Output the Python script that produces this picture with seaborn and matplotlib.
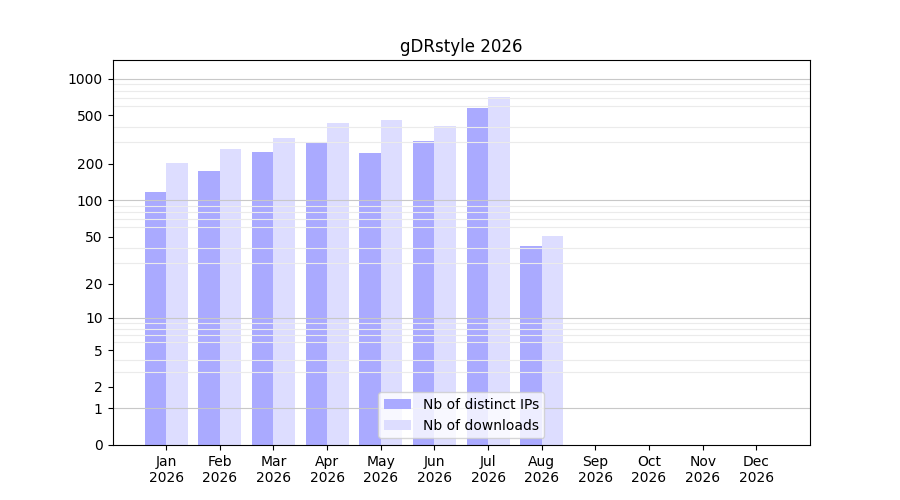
import matplotlib
matplotlib.use("Agg")
import matplotlib.pyplot as plt
import seaborn as sns
import pandas as pd
import numpy as np

# Monthly stats for gDRstyle (Sep-Dec not yet available)
months = ['Jan', 'Feb', 'Mar', 'Apr', 'May', 'Jun',
          'Jul', 'Aug', 'Sep', 'Oct', 'Nov', 'Dec']
year = 2026
distinct_ips = [117, 174, 250, 302, 245, 308, 575, 42, np.nan, np.nan, np.nan, np.nan]
downloads = [202, 265, 326, 433, 458, 409, 709, 51, np.nan, np.nan, np.nan, np.nan]

labels = [f"{m}\n{year}" for m in months]
df = pd.DataFrame({
    'month': labels * 2,
    'count': distinct_ips + downloads,
    'series': ['Nb of distinct IPs'] * 12 + ['Nb of downloads'] * 12,
})

fig, ax = plt.subplots(figsize=(9, 5), dpi=100)
sns.barplot(data=df, x='month', y='count', hue='series', order=labels,
            palette={'Nb of distinct IPs': '#aaaaff', 'Nb of downloads': '#ddddff'},
            width=0.8, saturation=1, ax=ax, zorder=1)

# log(1 + x) scale so that zero stays on the axis
ax.set_yscale('function', functions=(lambda v: np.log10(np.clip(1 + v, 1e-9, None)),
                                     lambda v: 10 ** v - 1))
ax.set_ylim(0, 1425)
ax.set_xlim(-1, 12)

yticks = [0, 1, 2, 5, 10, 20, 50, 100, 200, 500, 1000]
ax.set_yticks(yticks)
ax.set_yticklabels([str(t) for t in yticks])
minor = [m * 10 ** k for k in range(3) for m in range(2, 10)]
ax.set_yticks(minor, minor=True)
ax.tick_params(axis='y', which='minor', length=0)
ax.grid(False)
ax.grid(True, axis='y', which='minor', color='#ebebeb', linewidth=0.8, zorder=1.5)
for d in [1, 10, 100, 1000]:
    ax.axhline(d, color='#c8c8c8', linewidth=0.8, zorder=1.5)

ax.set_xlabel('')
ax.set_ylabel('')
ax.set_title(f'gDRstyle {year}')
ax.legend(loc='lower center')

plt.savefig('out.png', dpi=100)
plt.close()
